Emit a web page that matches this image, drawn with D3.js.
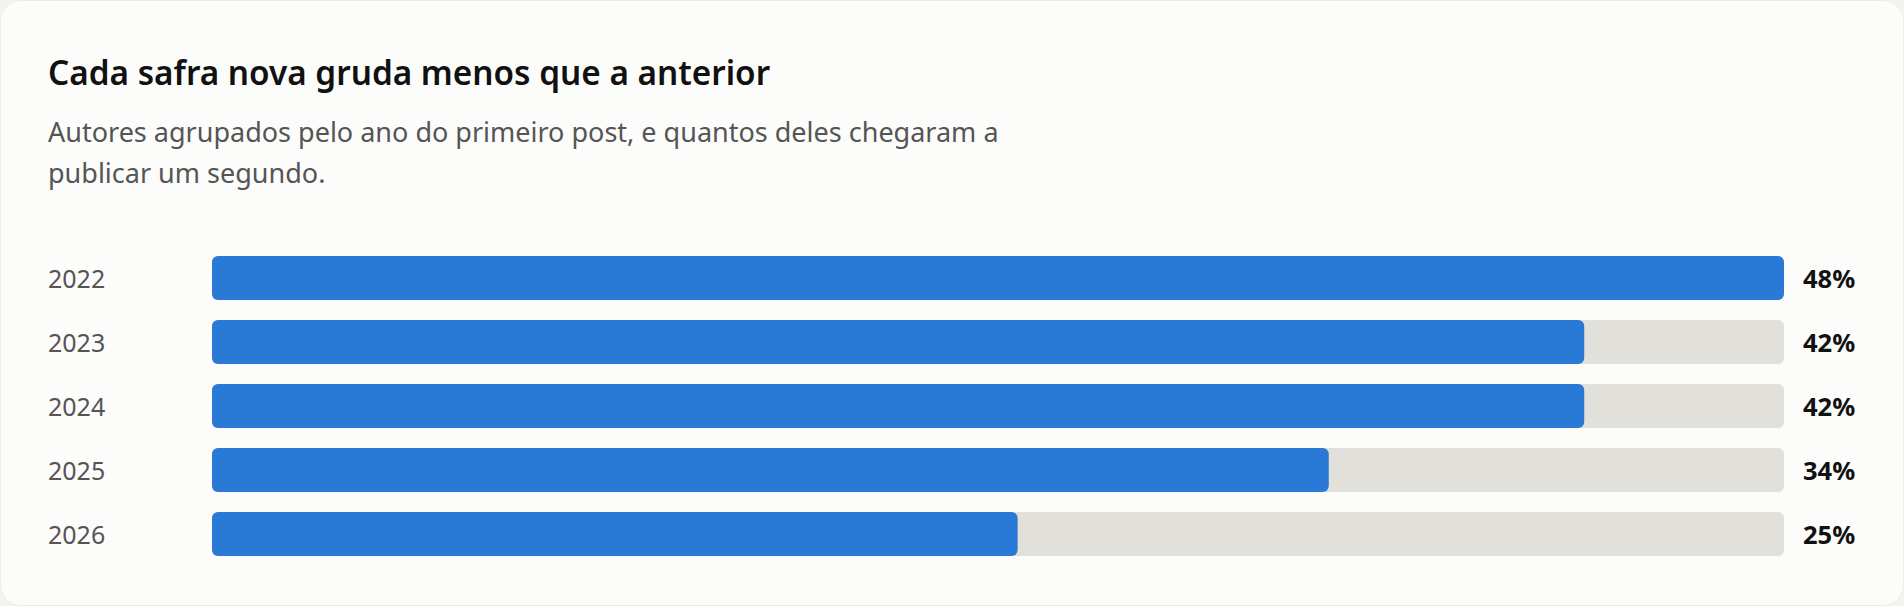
<!DOCTYPE html>
<html>
<head>
<meta charset="utf-8">
<script src="https://cdn.jsdelivr.net/npm/d3@7"></script>
<style>
  html, body { margin: 0; padding: 0; background: #f3f3ef; }
  #chart { width: 1904px; height: 606px; }
  svg { display: block; font-family: "Noto Sans", sans-serif; }
</style>
</head>
<body>
<div id="chart"></div>
<script>
// dados: ano do primeiro post e % que publicaram um segundo
var years = ['2022', '2023', '2024', '2025', '2026'];
var retained = [48.0, 41.9, 41.9, 34.1, 24.6];

var title = 'Cada safra nova gruda menos que a anterior';
var subtitleLines = [
    'Autores agrupados pelo ano do primeiro post, e quantos deles chegaram a',
    'publicar um segundo.'
];

var width = 1904, height = 606;

var svg = d3.select('#chart').append('svg')
    .attr('width', width)
    .attr('height', height);

// card
svg.append('rect')
    .attr('x', 0.5).attr('y', 0.5)
    .attr('width', width - 1).attr('height', height - 1)
    .attr('rx', 20)
    .attr('fill', '#fcfcfa')
    .attr('stroke', '#ecebe6');

svg.append('text')
    .attr('x', 48).attr('y', 85)
    .attr('font-size', 33.3)
    .attr('font-weight', 600)
    .attr('fill', '#111')
    .text(title);

svg.append('text')
    .attr('font-size', 27)
    .attr('fill', '#555')
    .selectAll('tspan')
    .data(subtitleLines)
    .enter().append('tspan')
    .attr('x', 48)
    .attr('y', function(d, i) { return 142 + i * 40.5; })
    .text(function(d) { return d; });

var x = d3.scaleLinear()
    .domain([0, d3.max(retained)])
    .range([212, 1784]);

var y = d3.scaleBand()
    .domain(years)
    .range([246, 566])
    .paddingInner(20 / 64)
    .paddingOuter(10 / 64);

var rows = svg.selectAll('g.row')
    .data(years.map(function(d, i) { return {year: d, value: retained[i]}; }))
    .enter().append('g')
    .attr('class', 'row');

// trilho
rows.append('rect')
    .attr('x', x(0))
    .attr('y', function(d) { return y(d.year); })
    .attr('width', x.range()[1] - x(0))
    .attr('height', y.bandwidth())
    .attr('rx', 6)
    .attr('fill', '#e1e0da');

rows.append('rect')
    .attr('x', x(0))
    .attr('y', function(d) { return y(d.year); })
    .attr('width', function(d) { return x(d.value) - x(0); })
    .attr('height', y.bandwidth())
    .attr('rx', 6)
    .attr('fill', '#2a79d6');

rows.append('text')
    .attr('x', 48)
    .attr('y', function(d) { return y(d.year) + y.bandwidth() / 2; })
    .attr('dy', '0.4em')
    .attr('font-size', 25)
    .attr('fill', '#555')
    .text(function(d) { return d.year; });

rows.append('text')
    .attr('x', x.range()[1] + 19)
    .attr('y', function(d) { return y(d.year) + y.bandwidth() / 2; })
    .attr('dy', '0.4em')
    .attr('font-size', 25.5)
    .attr('font-weight', 700)
    .attr('fill', '#111')
    .text(function(d) { return Math.round(d.value) + '%'; });
</script>
</body>
</html>
